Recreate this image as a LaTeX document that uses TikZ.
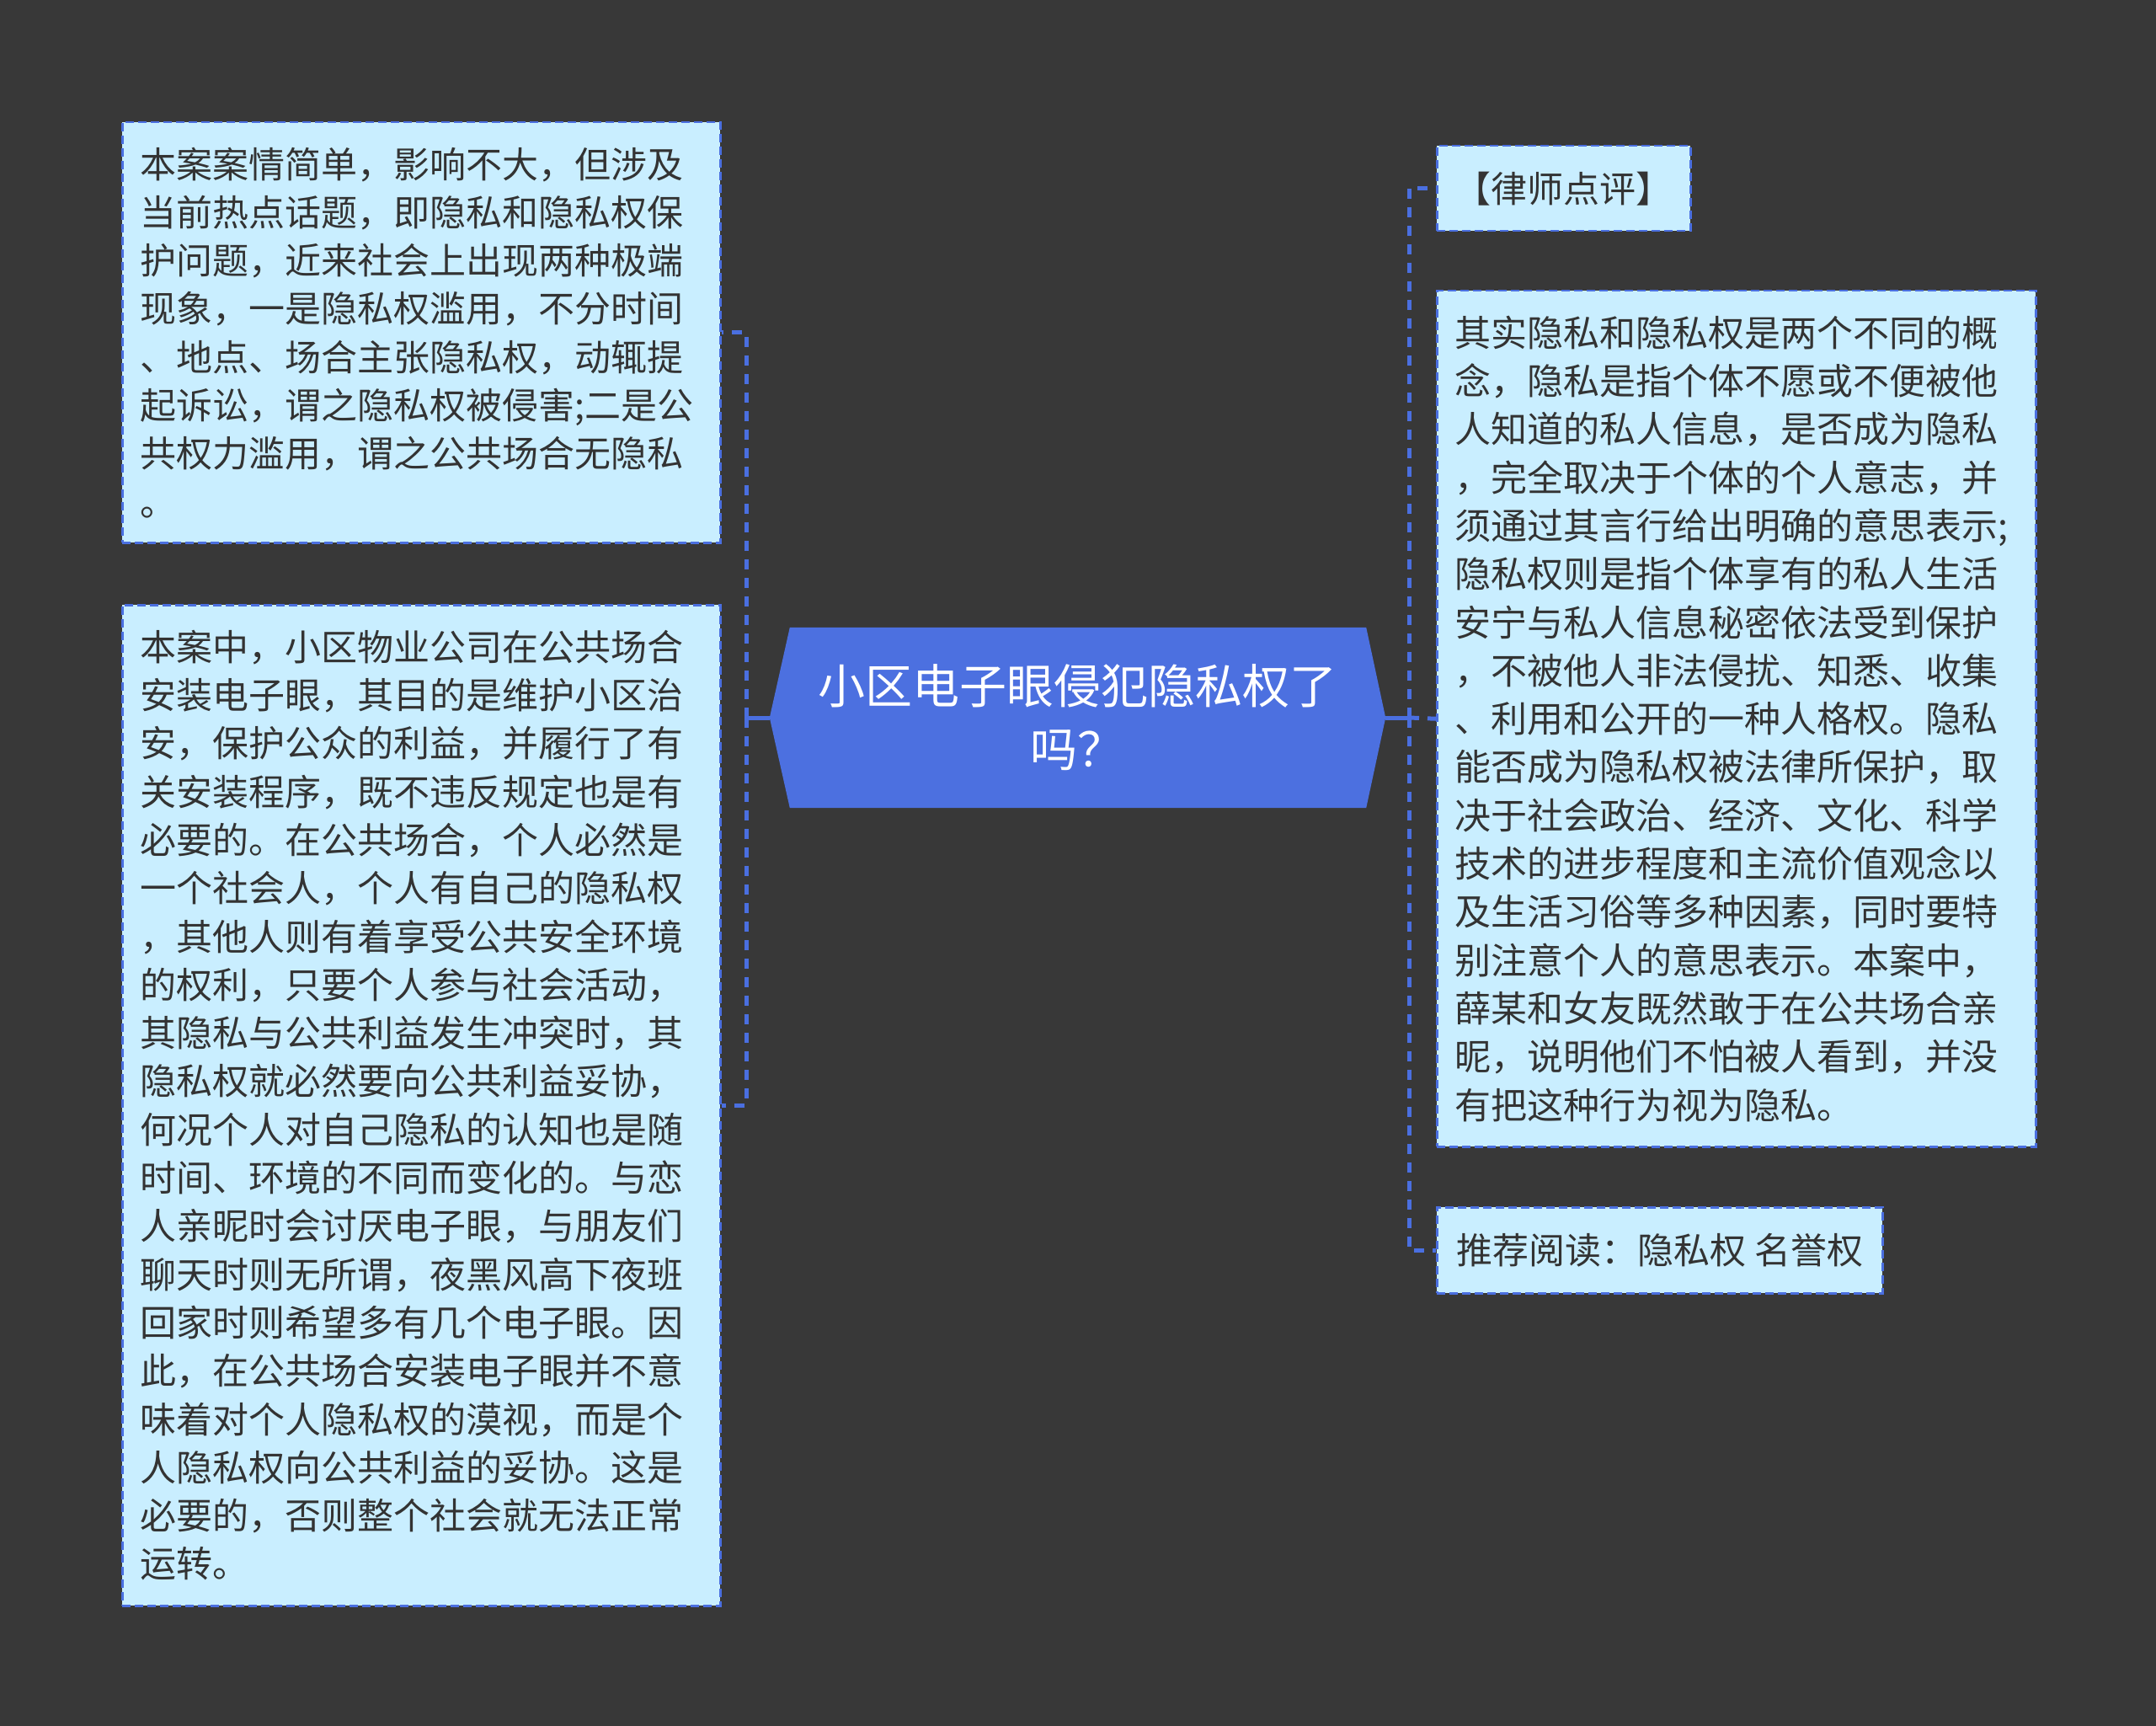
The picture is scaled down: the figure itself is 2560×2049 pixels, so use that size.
\documentclass[tikz,border=0pt]{standalone}
\usepackage{fontspec}
\setmainfont{Noto Sans CJK SC}
\usetikzlibrary{backgrounds}
\definecolor{bg}{HTML}{383838}
\definecolor{boxfill}{HTML}{C9EEFF}
\definecolor{edge}{HTML}{4A6FE0}
\definecolor{mainfill}{HTML}{4C70E0}
\definecolor{txt}{HTML}{333333}
\tikzset{
  leaf/.style={draw=edge, line width=2.5pt, dash pattern=on 10pt off 5pt, fill=boxfill, text=txt,
    font=\fontsize{43pt}{57.3pt}\selectfont, inner xsep=21pt, inner ysep=0pt, anchor=north west},
  leafl/.style={leaf, align=left},
  leafc/.style={leaf, align=center},
  conn/.style={draw=edge, line width=5pt, dash pattern=on 12pt off 10pt},
  stub/.style={draw=edge, line width=5pt},
  mainnode/.style={text=white, font=\fontsize{56pt}{75pt}\selectfont, align=center, inner sep=0pt,
    minimum width=731pt, minimum height=214pt},
}
\begin{document}
\begin{tikzpicture}[x=1pt,y=-1pt]
\useasboundingbox (0,0) rectangle (2560,2049);

\node[mainnode] (c) at (1279.5,852) {小区电子眼侵犯隐私权了\\吗？};

\node[leafl, minimum width=710pt, minimum height=499pt, text width=668pt] (l1) at (144,144) {%
本案案情简单，影响不大，但涉及\\
当前热点话题，即隐私和隐私权保\\
护问题，近来社会上出现两种极端\\
现象，一是隐私权滥用，不分时间\\
、地点、场合主张隐私权，动辄提\\
起诉讼，谓之隐私权被侵害;二是公\\
共权力滥用，谓之公共场合无隐私\\
。};

\node[leafl, minimum width=710pt, minimum height=1188pt, text width=668pt] (l2) at (144,717) {%
本案中，小区物业公司在公共场合\\
安装电子眼，其目的是维护小区治\\
安，保护公众的利益，并履行了有\\
关安装程序，既不违反规定也是有\\
必要的。在公共场合，个人必然是\\
一个社会人，个人有自己的隐私权\\
，其他人则有着享受公共安全环境\\
的权利，只要个人参与社会活动，\\
其隐私与公共利益发生冲突时，其\\
隐私权就必然要向公共利益妥协，\\
何况个人对自己隐私的认知也是随\\
时间、环境的不同而变化的。与恋\\
人亲昵时会讨厌电子眼，与朋友们\\
聊天时则无所谓，夜黑风高下夜班\\
回家时则希望多有几个电子眼。因\\
此，在公共场合安装电子眼并不意\\
味着对个人隐私权的漠视，而是个\\
人隐私权向公共利益的妥协。这是\\
必要的，否则整个社会就无法正常\\
运转。};

\node[leafc, minimum width=301pt, minimum height=101pt] (r1) at (1705,172) {【律师点评】};

\node[leafl, minimum width=711pt, minimum height=1016pt, text width=669pt] (r2) at (1705,344) {%
其实隐私和隐私权是两个不同的概\\
念，隐私是指个体不愿或不便被他\\
人知道的私人信息，是否成为隐私\\
，完全取决于个体的个人意志，并\\
须通过其言行给出明确的意思表示;\\
隐私权则是指个体享有的私人生活\\
安宁与私人信息秘密依法受到保护\\
，不被他人非法侵扰、知悉、收集\\
、利用和公开的一种人格权。隐私\\
能否成为隐私权被法律所保护，取\\
决于社会政治、经济、文化、科学\\
技术的进步程度和主流价值观念以\\
及生活习俗等多种因素，同时要特\\
别注意个人的意思表示。本案中，\\
薛某和女友既然敢于在公共场合亲\\
昵，说明他们不怕被人看到，并没\\
有把这种行为视为隐私。};

\node[leafc, minimum width=529pt, minimum height=102pt] (r3) at (1705,1432) {推荐阅读：隐私权 名誉权};

\coordinate (lj) at (886,852);
\coordinate (rj) at (1673,852);

\begin{pgfonlayer}{background}
\fill[bg] (0,0) rectangle (2560,2049);
\fill[mainfill] ([xshift=24pt]c.north west) -- ([xshift=-23pt]c.north east) -- (c.east)
  -- ([xshift=-23pt]c.south east) -- ([xshift=24pt]c.south west) -- (c.west) -- cycle;
\draw[stub] (c.west) -- (lj);
\draw[conn] (lj) |- (l1.east);
\draw[conn] (lj) |- (l2.east);
\draw[stub] (c.east) -- (rj);
\draw[conn] (rj) |- (r1.west);
\draw[conn] (rj) -- (r2.west);
\draw[conn] (rj) |- (r3.west);
\end{pgfonlayer}
\end{tikzpicture}
\end{document}
